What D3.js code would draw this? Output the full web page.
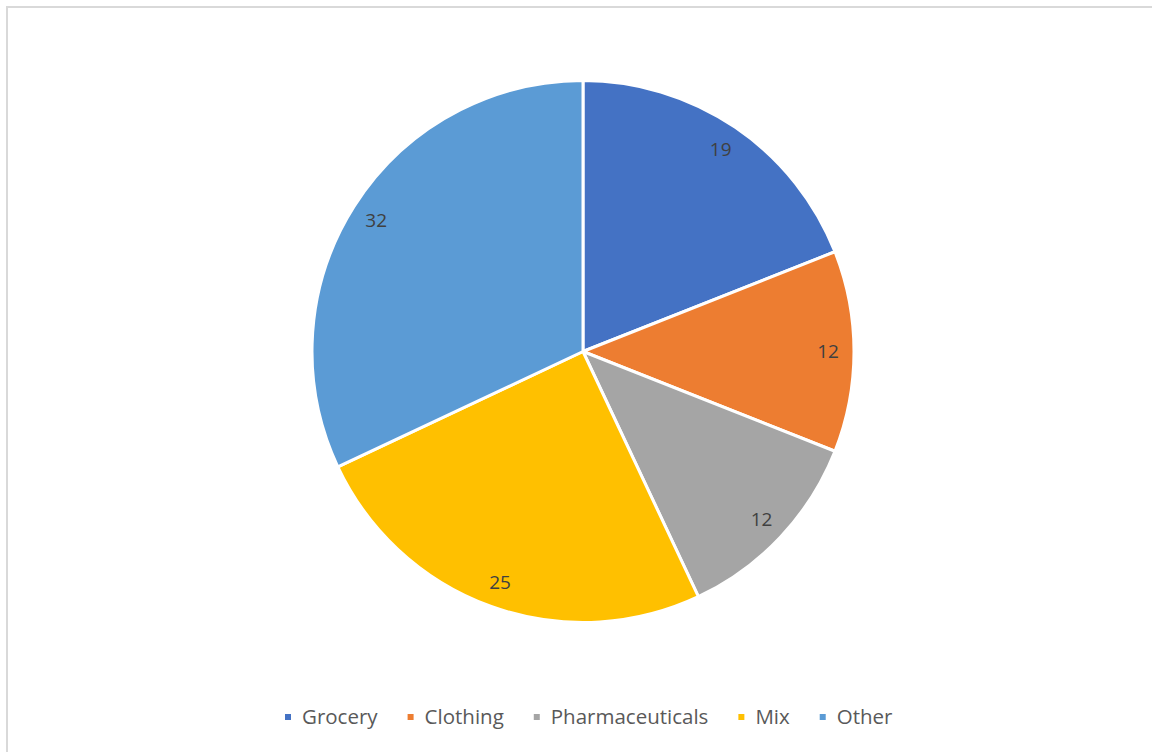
<!DOCTYPE html>
<html>
<head>
<meta charset="utf-8">
<script src="https://cdn.jsdelivr.net/npm/d3@7"></script>
<style>
  html, body { margin: 0; padding: 0; background: #ffffff; }
  svg { display: block; }
</style>
</head>
<body>
<script>
// Store-type share data
const categories = ["Grocery", "Clothing", "Pharmaceuticals", "Mix", "Other"];
const values = [19, 12, 12, 25, 32];
const colors = ["#4472C4", "#ED7D31", "#A5A5A5", "#FFC000", "#5B9BD5"];

const W = 1152, H = 752;
const cx = 583, cy = 351.5, R = 271;
const labelR = 245;
const fontFamily = "'Open Sans', 'Noto Sans', sans-serif";

const svg = d3.select("body").append("svg")
  .attr("width", W).attr("height", H);

// chart area frame
svg.append("rect")
  .attr("x", 7).attr("y", 7)
  .attr("width", W + 20).attr("height", H + 20)
  .attr("fill", "#ffffff")
  .attr("stroke", "#d9d9d9").attr("stroke-width", 2);

const rows = categories.map((c, i) => ({ name: c, value: values[i], color: colors[i] }));

const pie = d3.pie().value(d => d.value).sort(null);
const arcs = pie(rows);
const arc = d3.arc().innerRadius(0).outerRadius(R);
const labelArc = d3.arc().innerRadius(labelR).outerRadius(labelR);

const g = svg.append("g").attr("transform", `translate(${cx},${cy})`);

g.selectAll("path.slice")
  .data(arcs)
  .join("path")
  .attr("class", "slice")
  .attr("d", arc)
  .attr("fill", d => d.data.color)
  .attr("stroke", "#ffffff")
  .attr("stroke-width", 3)
  .attr("stroke-linejoin", "round");

g.selectAll("text.val")
  .data(arcs)
  .join("text")
  .attr("class", "val")
  .attr("transform", d => `translate(${labelArc.centroid(d)})`)
  .attr("text-anchor", "middle")
  .attr("dy", "0.36em")
  .attr("font-family", fontFamily)
  .attr("font-size", 19)
  .attr("fill", "#404040")
  .text(d => d.data.value);

// legend centred under the pie
const legend = svg.append("g").attr("font-family", fontFamily).attr("font-size", 20.5);
const items = legend.selectAll("g.item").data(rows).join("g").attr("class", "item");
items.append("rect")
  .attr("width", 6).attr("height", 6)
  .attr("y", -10)
  .attr("fill", d => d.color);
items.append("text")
  .attr("x", 17)
  .attr("y", 0)
  .attr("fill", "#595959")
  .text(d => d.name);

let x = 0;
const gapAfter = 30;
items.each(function () {
  const node = d3.select(this);
  const tw = node.select("text").node().getComputedTextLength();
  node.attr("transform", `translate(${x},0)`);
  x += 17 + tw + gapAfter;
});
const totalW = x - gapAfter;
legend.attr("transform", `translate(${Math.round(589 - totalW / 2)},724)`);
</script>
</body>
</html>
